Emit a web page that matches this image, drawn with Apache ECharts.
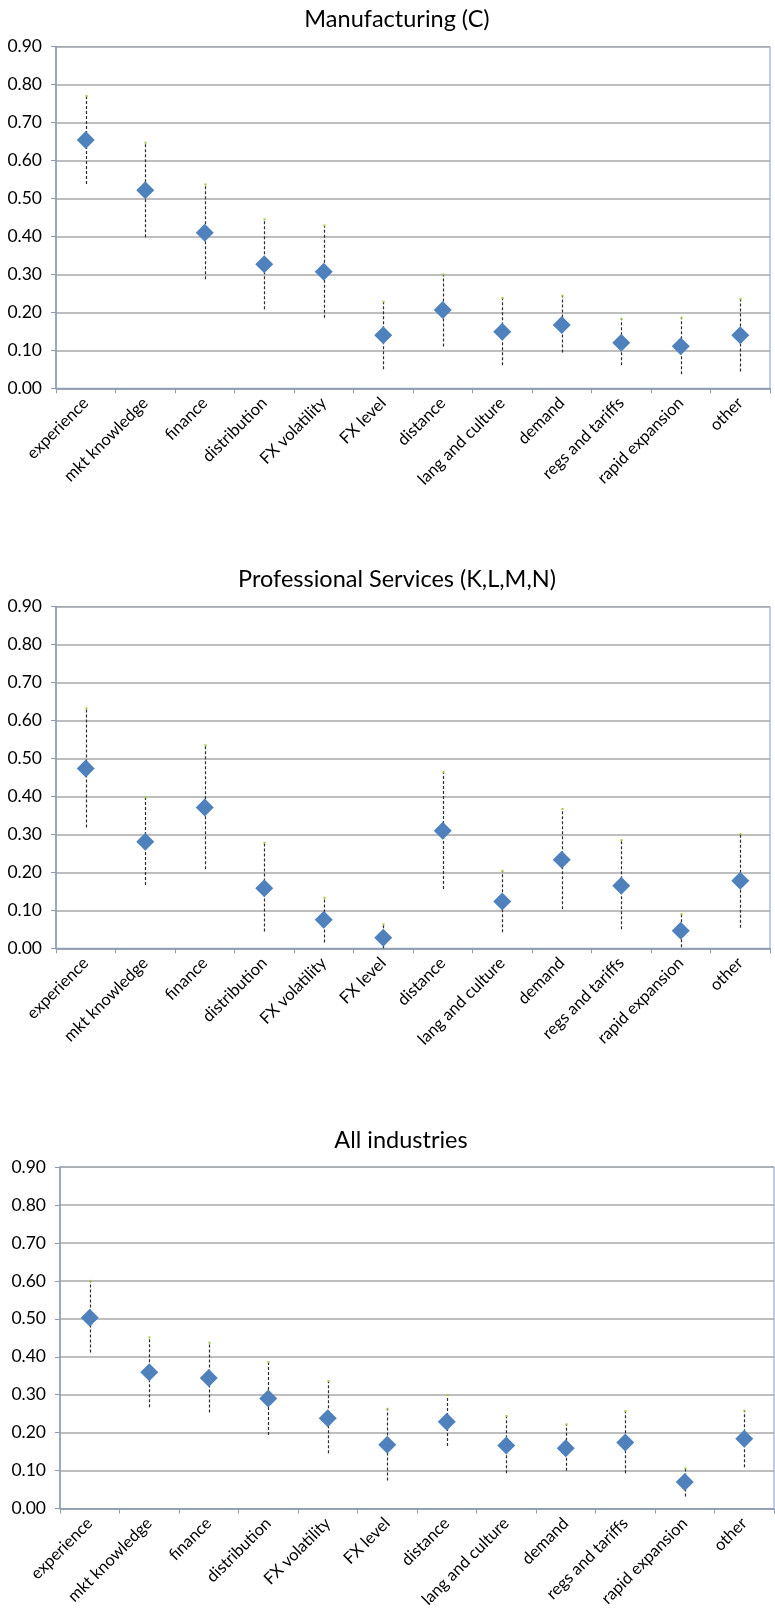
<!DOCTYPE html>
<html>
<head>
<meta charset="utf-8">
<title>Export barriers by industry</title>
<script src="https://cdn.jsdelivr.net/npm/echarts@6/dist/echarts.min.js"></script>
<style>
  html, body { margin: 0; padding: 0; background: #fff; }
  #chart { width: 775px; height: 1616px; }
</style>
</head>
<body>
<div id="chart"></div>
<script>
// Barrier categories shared by all three panels
const categories = ['experience', 'mkt knowledge', 'finance', 'distribution', 'FX volatility',
  'FX level', 'distance', 'lang and culture', 'demand', 'regs and tariffs', 'rapid expansion', 'other'];

// Panel titles
const panelTitles = ['Manufacturing (C)', 'Professional Services (K,L,M,N)', 'All industries'];

// Manufacturing: point estimate with lower / upper bound
const mfgMean = [0.654, 0.522, 0.410, 0.327, 0.307, 0.140, 0.206, 0.149, 0.167, 0.120, 0.111, 0.140];
const mfgLow  = [0.538, 0.398, 0.287, 0.208, 0.186, 0.050, 0.110, 0.061, 0.094, 0.061, 0.037, 0.044];
const mfgHigh = [0.770, 0.647, 0.537, 0.445, 0.429, 0.228, 0.300, 0.238, 0.244, 0.183, 0.186, 0.235];

// Professional services
const psMean = [0.474, 0.281, 0.371, 0.158, 0.075, 0.028, 0.310, 0.123, 0.233, 0.165, 0.046, 0.178];
const psLow  = [0.318, 0.167, 0.208, 0.044, 0.015, 0.000, 0.156, 0.042, 0.103, 0.050, 0.003, 0.054];
const psHigh = [0.632, 0.398, 0.535, 0.278, 0.133, 0.063, 0.464, 0.204, 0.367, 0.285, 0.090, 0.301];

// All industries
const allMean = [0.503, 0.359, 0.344, 0.290, 0.238, 0.168, 0.229, 0.166, 0.159, 0.174, 0.070, 0.184];
const allLow  = [0.411, 0.267, 0.253, 0.194, 0.146, 0.074, 0.165, 0.093, 0.100, 0.093, 0.032, 0.109];
const allHigh = [0.600, 0.451, 0.437, 0.386, 0.336, 0.263, 0.299, 0.244, 0.222, 0.257, 0.106, 0.258];

// Value axis range
const yMin = 0, yMax = 0.9, yStep = 0.1;

const panels = [
  { mean: mfgMean, low: mfgLow, high: mfgHigh },
  { mean: psMean, low: psLow, high: psHigh },
  { mean: allMean, low: allLow, high: allHigh }
];

const FONT = 'Lato';
const layout = [
  { left: 56, right: 5, top: 46.7, titleTop: 2, titleX: 392 },
  { left: 56, right: 5, top: 606.7, titleTop: 562, titleX: 392 },
  { left: 60, right: 1, top: 1167, titleTop: 1123, titleX: 396 }
];
const plotHeight = 341.6;

const grids = [], xAxes = [], yAxes = [], titles = [], series = [];

layout.forEach((L, k) => {
  titles.push({
    text: panelTitles[k],
    left: L.titleX, top: L.titleTop, textAlign: 'center',
    textStyle: { fontFamily: FONT, fontSize: 23.5, fontWeight: 'normal', color: '#000' }
  });
  grids.push({
    left: L.left, right: L.right, top: L.top, height: plotHeight,
    show: true, borderColor: '#7A9CC8', borderWidth: 1, backgroundColor: 'transparent'
  });
  xAxes.push({
    type: 'category', gridIndex: k, data: categories, boundaryGap: true,
    axisLine: { lineStyle: { color: '#8C9CB4', width: 1.5 } },
    axisTick: { show: true, length: 5, lineStyle: { color: '#8C9CB4' } },
    axisLabel: { rotate: 45, interval: 0, margin: 12, fontFamily: FONT, fontSize: 16.5, color: '#000' },
    splitLine: { show: false }
  });
  yAxes.push({
    type: 'value', gridIndex: k, min: yMin, max: yMax, interval: yStep,
    axisLine: { show: true, lineStyle: { color: '#8C9CB4', width: 1.5 } },
    axisTick: { show: true, length: 5, lineStyle: { color: '#8C9CB4' } },
    axisLabel: { margin: 14, fontFamily: FONT, fontSize: 17.5, color: '#000',
      formatter: v => v.toFixed(2) },
    splitLine: { lineStyle: { color: '#A8A8A8', width: 1.5 } }
  });

  const p = panels[k];
  // dashed high-low range with a small cap mark at the upper end
  series.push({
    type: 'custom', xAxisIndex: k, yAxisIndex: k, z: 2,
    data: categories.map((c, i) => [i, p.low[i], p.high[i]]),
    renderItem: (params, api) => {
      const i = api.value(0);
      const lo = api.coord([i, api.value(1)]);
      const hi = api.coord([i, api.value(2)]);
      const x = Math.round(lo[0]) + 0.5;
      return {
        type: 'group',
        children: [
          { type: 'line', shape: { x1: x, y1: lo[1], x2: x, y2: hi[1] },
            style: { stroke: '#2E2E2E', lineWidth: 1.2, lineDash: [3, 2] } },
          { type: 'rect', shape: { x: x - 1, y: hi[1] - 1, width: 2, height: 2 },
            style: { fill: '#9BCB3B' } }
        ]
      };
    }
  });
  // point estimates
  series.push({
    type: 'scatter', xAxisIndex: k, yAxisIndex: k, z: 3,
    symbol: 'diamond', symbolSize: 18,
    itemStyle: { color: '#4F81BD', opacity: 1 },
    data: p.mean
  });
});

const chart = echarts.init(document.getElementById('chart'), null, { renderer: 'canvas' });
chart.setOption({
  animation: false,
  backgroundColor: '#fff',
  title: titles,
  grid: grids,
  xAxis: xAxes,
  yAxis: yAxes,
  series: series
});
</script>
</body>
</html>
